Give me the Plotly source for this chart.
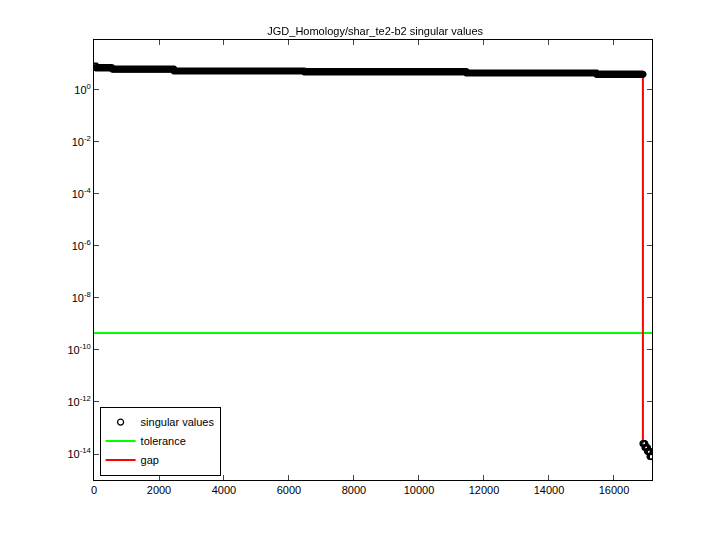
import numpy as np
import plotly.graph_objects as go

# singular values as piecewise levels (log10)
level_log10 = [0.92, 0.85, 0.80, 0.73, 0.70, 0.65, 0.60, -13.6, -13.75, -13.9, -14.1]
level_count = [60, 500, 1900, 4000, 5000, 4000, 1430, 60, 80, 80, 60]
tolerance = 10 ** -9.35
gap_index = 16890
gap_top = 10 ** 0.58
gap_bottom = 10 ** -13.6

sv = np.repeat(10.0 ** np.array(level_log10), level_count)
idx = np.arange(1, len(sv) + 1)
n = len(sv)

fig = go.Figure()
fig.add_trace(go.Scattergl(x=idx, y=sv, mode='markers', name='singular values',
                           marker=dict(symbol='circle-open', size=6, color='black', line=dict(width=1.2))))
fig.add_trace(go.Scatter(x=[0, n], y=[tolerance, tolerance], mode='lines', name='tolerance',
                         line=dict(color='#00ff00', width=2)))
fig.add_trace(go.Scatter(x=[gap_index, gap_index], y=[gap_top, gap_bottom], mode='lines', name='gap',
                         line=dict(color='red', width=2)))

xticks = list(range(0, 17000, 2000))
tickvals = [10.0 ** k for k in range(-14, 1, 2)]
ticktext = ['10<sup>%d</sup>' % k for k in range(-14, 1, 2)]
fig.update_layout(
    width=720, height=540, plot_bgcolor='white', paper_bgcolor='white',
    margin=dict(l=86, r=76, t=32, b=68, autoexpand=False),
    title=dict(text='JGD_Homology/shar_te2-b2 singular values', x=0.51, y=0.965,
               font=dict(family='Liberation Sans', size=11, color='black')),
    font=dict(family='Liberation Sans', size=11, color='black'),
    legend=dict(x=0.01, y=0.01, xanchor='left', yanchor='bottom', bordercolor='black',
                borderwidth=1, bgcolor='white', tracegroupgap=0),
)
fig.update_xaxes(range=[0, n], tickvals=xticks, ticktext=[str(v) for v in xticks], ticks='inside',
                 showline=True, mirror='ticks', linecolor='black', showgrid=False, zeroline=False,
                 automargin=False, tickfont=dict(color='black'))
fig.update_yaxes(type='log', range=[-15, 1.92], tickvals=tickvals, ticktext=ticktext, ticks='inside',
                 showline=True, mirror='ticks', linecolor='black', showgrid=False, zeroline=False,
                 automargin=False, tickfont=dict(color='black'))
fig.write_html('out.html')
